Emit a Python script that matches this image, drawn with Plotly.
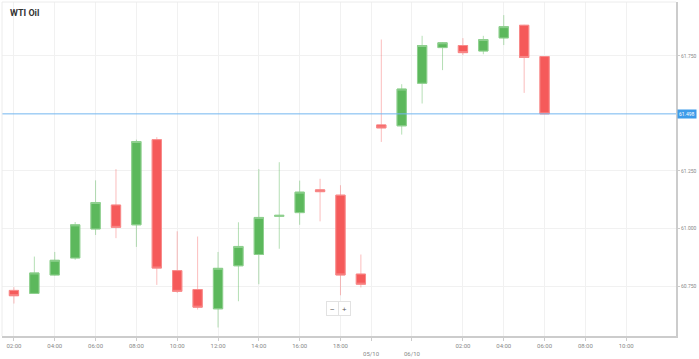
import plotly.graph_objects as go

# ---- data ----
candle_idx = list(range(27))
open_ = [60.731, 60.718, 60.798, 60.872, 60.998, 61.102, 61.016, 61.386, 60.817, 60.735,
         60.651, 60.838, 60.887, 61.053, 61.069, 61.168, 61.145, 60.802, 61.450, 61.446,
         61.631, 61.786, 61.795, 61.771, 61.828, 61.883, 61.747]
high = [60.745, 60.878, 60.898, 61.028, 61.209, 61.258, 61.386, 61.397, 60.988, 60.965,
        60.898, 61.027, 61.258, 61.288, 61.208, 61.216, 61.188, 60.887, 61.821, 61.627,
        61.837, 61.810, 61.827, 61.837, 61.927, 61.885, 61.747]
low = [60.674, 60.716, 60.796, 60.864, 60.972, 60.958, 60.920, 60.755, 60.720, 60.648,
       60.570, 60.684, 60.758, 60.912, 61.016, 61.031, 60.710, 60.744, 61.376, 61.408,
       61.543, 61.688, 61.753, 61.757, 61.797, 61.589, 61.498]
close = [60.708, 60.807, 60.862, 61.016, 61.113, 61.005, 61.378, 60.828, 60.727, 60.658,
         60.827, 60.922, 61.048, 61.057, 61.158, 61.160, 60.798, 60.758, 61.437, 61.606,
         61.795, 61.807, 61.764, 61.821, 61.877, 61.743, 61.498]
last_price = 61.498

x_tick_pos = [0, 2, 4, 6, 8, 10, 12, 14, 16, 17.5, 19.5, 22, 24, 26, 28, 30]
x_tick_text = ["02:00", "04:00", "06:00", "08:00", "10:00", "12:00", "14:00", "16:00",
               "18:00", "<br>05/10", "<br>06/10", "02:00", "04:00", "06:00", "08:00", "10:00"]
y_tick_vals = [60.75, 61.0, 61.25, 61.75]
y_tick_text = ["60.750", "61.000", "61.250", "61.750"]

GREEN = "#5cb85c"
RED = "#f55a5a"

body_hi = [max(o, c) for o, c in zip(open_, close)]
body_lo = [min(o, c) for o, c in zip(open_, close)]

fig = go.Figure()
# wicks (light)
fig.add_trace(go.Candlestick(
    x=candle_idx, open=open_, high=high, low=low, close=close,
    increasing=dict(line=dict(color="rgba(92,184,92,0.45)", width=1), fillcolor="rgba(0,0,0,0)"),
    decreasing=dict(line=dict(color="rgba(245,90,90,0.4)", width=1), fillcolor="rgba(0,0,0,0)"),
    whiskerwidth=0, showlegend=False, hoverinfo="skip"))
# bodies
fig.add_trace(go.Candlestick(
    x=candle_idx, open=open_, high=body_hi, low=body_lo, close=close,
    increasing=dict(line=dict(color="#8fd08f", width=1), fillcolor=GREEN),
    decreasing=dict(line=dict(color="#f88a8a", width=1), fillcolor=RED),
    whiskerwidth=0, showlegend=False, hoverinfo="skip"))

# last price line
fig.add_shape(type="line", xref="paper", x0=0, x1=1, yref="y", y0=last_price, y1=last_price,
              line=dict(color="#72b6f0", width=1), layer="above")
fig.add_annotation(xref="paper", x=1.0, xanchor="left", xshift=1, y=last_price, yref="y",
                   text=f"{last_price:.3f}", showarrow=False,
                   font=dict(size=5, color="white", family="Roboto"),
                   bgcolor="#3d9be9", borderpad=1)

# zoom controls
fig.add_annotation(xref="paper", yref="paper", x=(334 - 2) / 677, y=(341 - 321) / 339,
                   text="−", showarrow=False, font=dict(size=8, color="#555"),
                   bgcolor="white", bordercolor="#e2e2e2", borderwidth=1, borderpad=1, width=9)
fig.add_annotation(xref="paper", yref="paper", x=(346 - 2) / 677, y=(341 - 321) / 339,
                   text="+", showarrow=False, font=dict(size=8, color="#555"),
                   bgcolor="white", bordercolor="#e2e2e2", borderwidth=1, borderpad=1, width=9)

fig.update_layout(
    width=699, height=359,
    margin=dict(l=2, r=20, t=2, b=18),
    paper_bgcolor="white", plot_bgcolor="white",
    boxgap=0.35, hovermode=False,
    title=dict(text="<b>WTI Oil</b>", xref="container", yref="container",
               x=10 / 699, y=1 - 13 / 359, xanchor="left", yanchor="middle",
               font=dict(size=9, color="#333", family="Roboto")),
    xaxis=dict(range=[-0.585, 32.44], rangeslider=dict(visible=False),
               tickmode="array", tickvals=x_tick_pos, ticktext=x_tick_text,
               showgrid=True, gridcolor="#f1f1f1", gridwidth=1,
               ticks="outside", ticklen=3, tickcolor="#cccccc",
               showline=True, linecolor="#cccccc", linewidth=2,
               tickfont=dict(size=6, color="#888", family="Roboto"),
               zeroline=False, fixedrange=True),
    yaxis=dict(range=[60.533, 61.984], side="right",
               tickmode="array", tickvals=y_tick_vals, ticktext=y_tick_text,
               showgrid=True, gridcolor="#f1f1f1", gridwidth=1,
               ticks="outside", ticklen=2, tickcolor="#cccccc",
               showline=True, linecolor="#cccccc", linewidth=2,
               tickfont=dict(size=5, color="#888", family="Roboto"),
               zeroline=False, fixedrange=True),
)
# top & left light border
fig.add_shape(type="line", xref="paper", yref="paper", x0=0, x1=1, y0=1, y1=1,
              line=dict(color="#ececec", width=1))
fig.add_shape(type="line", xref="paper", yref="paper", x0=0, x1=0, y0=0, y1=1,
              line=dict(color="#ececec", width=1))

fig.write_html("out.html", config={"displayModeBar": False},
               post_script="document.body.style.margin='0';document.body.style.padding='0';")
